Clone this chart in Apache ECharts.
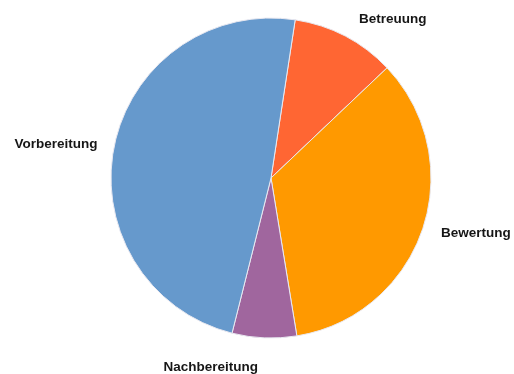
<!DOCTYPE html>
<html>
<head>
<meta charset="utf-8">
<script src="https://cdn.jsdelivr.net/npm/echarts@6/dist/echarts.min.js"></script>
<style>
  html, body { margin: 0; padding: 0; background: #fff; }
  #chart { width: 514px; height: 374px; }
</style>
</head>
<body>
<div id="chart"></div>
<script>
// Anteile (in %), im Uhrzeigersinn ab Betreuung
const categories = ['Betreuung', 'Bewertung', 'Nachbereitung', 'Vorbereitung']
const values = [10.5, 34.5, 6.5, 48.5]
const colors = ['#FF6633', '#FF9900', '#A0669E', '#6699CC']

// Abstand der Beschriftung vom Kreisrand
const labelLen = { Betreuung: 19, Bewertung: 14, Nachbereitung: 29, Vorbereitung: 12 }

const chart = echarts.init(document.getElementById('chart'))
chart.setOption({
  animation: false,
  series: [{
    type: 'pie',
    center: [271, 178],
    radius: 160,
    startAngle: 81.3,
    clockwise: true,
    avoidLabelOverlap: false,
    data: categories.map((name, i) => ({
      name: name,
      value: values[i],
      itemStyle: { color: colors[i] },
      labelLine: { length: labelLen[name] }
    })),
    itemStyle: {
      borderColor: '#e8e8f0',
      borderWidth: 1
    },
    label: {
      show: true,
      position: 'outside',
      color: '#161616',
      fontFamily: 'Liberation Sans',
      fontWeight: 'bold',
      fontSize: 13.5
    },
    labelLine: {
      show: false,
      length: 20,
      length2: 0
    },
    emphasis: { disabled: true }
  }]
})
</script>
</body>
</html>
